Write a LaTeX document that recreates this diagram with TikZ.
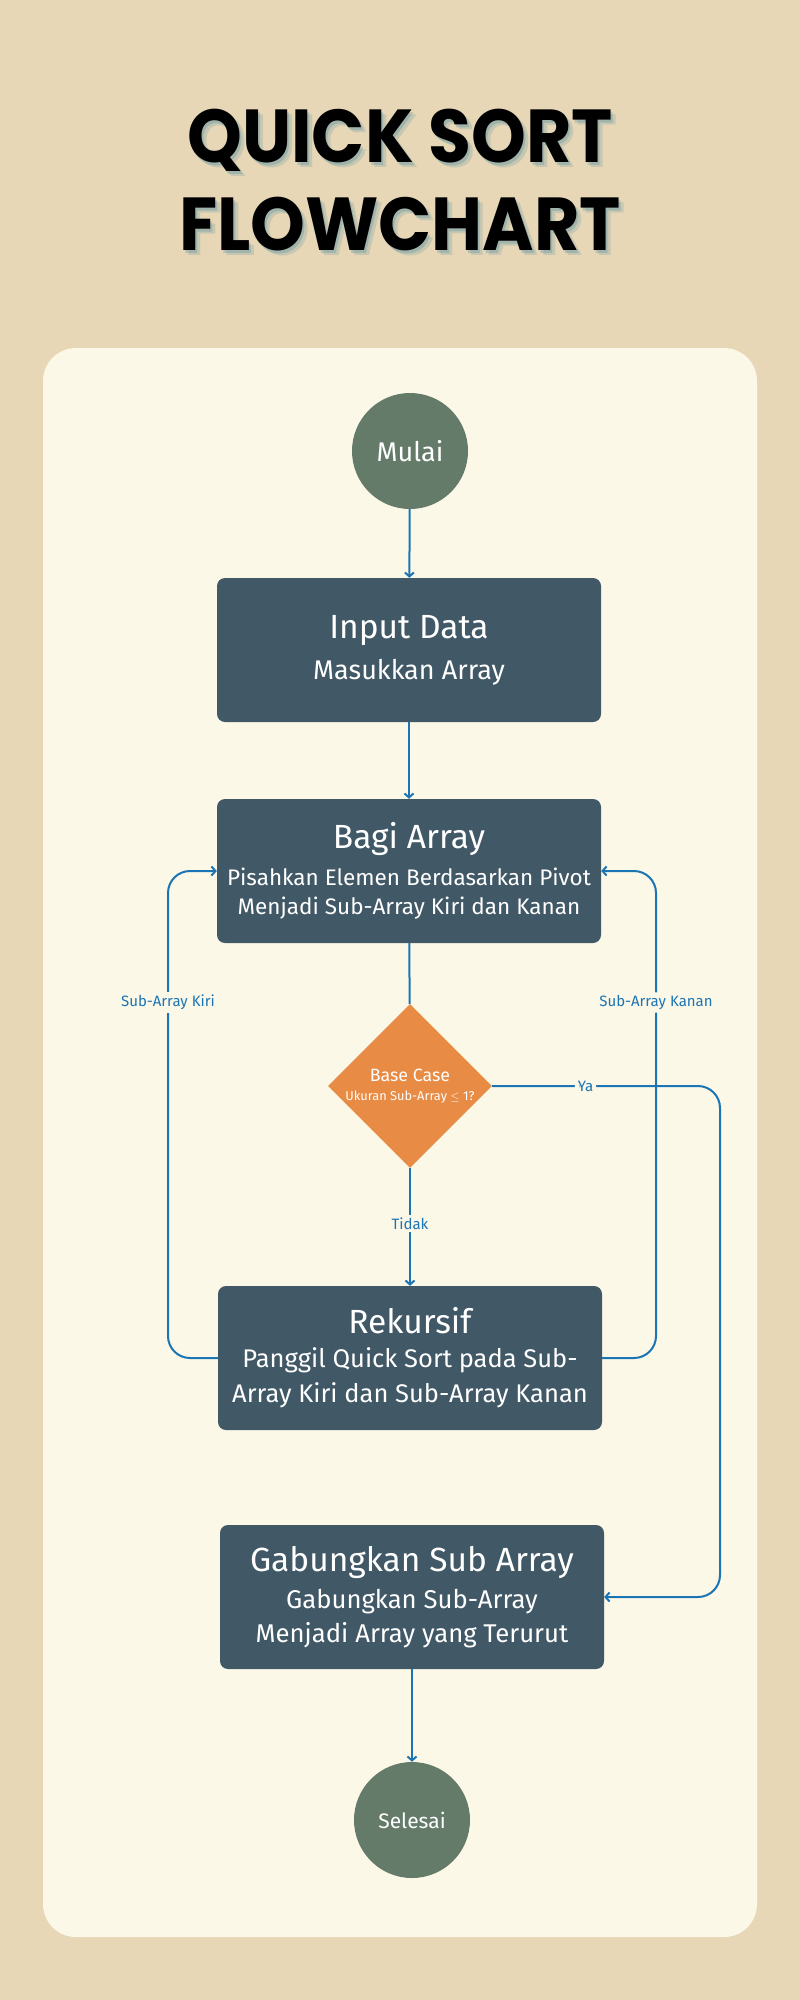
\documentclass[tikz,border=0pt]{standalone}
\usepackage{fontspec}
\setmainfont{Fira Sans}
\newfontfamily\titlefont{Poppins}[FakeStretch=0.93]
\usepackage{xcolor}
\usepackage{tikz}
\usetikzlibrary{calc,positioning,shapes.geometric,arrows.meta}
\definecolor{bgBeige}{HTML}{E7D7B6}
\definecolor{panelCream}{HTML}{FCF8E8}
\definecolor{boxSlate}{HTML}{415866}
\definecolor{termGreen}{HTML}{647B69}
\definecolor{decOrange}{HTML}{E88B45}
\definecolor{flowBlue}{HTML}{1B74B4}
\definecolor{shadowTeal}{HTML}{4A8AA0}
\tikzset{
    procBox/.style={draw=none, fill=boxSlate, rounded corners=8pt,
                    minimum width=384pt, minimum height=144pt, inner sep=4pt,
                    text=white, align=center, font=\fontsize{22.5}{29}\selectfont},
    termNode/.style={circle, fill=termGreen, minimum size=116pt, inner sep=0pt,
                     text=white, align=center},
    decNode/.style={diamond, fill=decOrange, minimum width=164pt, minimum height=164pt,
                    inner sep=0pt, text=white, align=center,
                    font=\fontsize{12.8}{18.5}\selectfont},
    flow/.style={draw=flowBlue, line width=2pt, -{Straight Barb[length=4pt, width=9pt]}},
    flowline/.style={draw=flowBlue, line width=2pt},
    lbl/.style={fill=panelCream, text=flowBlue, inner sep=3pt,
                font=\fontsize{15}{17}\selectfont},
    bigTitle/.style={font=\titlefont\bfseries\fontsize{75}{80}\selectfont, anchor=base},
}
\newcommand{\hd}[2][8pt]{{\fontsize{33.5}{40}\selectfont #2}\\[#1]}

\begin{document}
\begin{tikzpicture}[x=1pt, y=-1pt]

% background and panel
\fill[bgBeige] (0,0) rectangle (800,2000);
\fill[panelCream, rounded corners=33pt] (43,348) rectangle (757,1937);

% title with soft shadow
\node[bigTitle, text=shadowTeal, opacity=0.2] at (405,167) {QUICK SORT};
\node[bigTitle, text=shadowTeal, opacity=0.2] at (405,255) {FLOWCHART};
\node[bigTitle, text=shadowTeal, opacity=0.3] at (402,165) {QUICK SORT};
\node[bigTitle, text=shadowTeal, opacity=0.3] at (402,253) {FLOWCHART};
\node[bigTitle] (titleA) at (400,162) {QUICK SORT};
\node[bigTitle] (titleB) at (400,250) {FLOWCHART};

% flow nodes
\node[termNode, font=\fontsize{27}{30}\selectfont] (mulai) at (410,451) {Mulai};

\node[procBox, font=\fontsize{27}{34}\selectfont] (input) at (409,650)
     {\hd[7pt]{Input Data}Masukkan Array};

\node[procBox] (bagi) at (409,871)
     {\hd{Bagi Array}Pisahkan Elemen Berdasarkan Pivot\\
      Menjadi Sub-Array Kiri dan Kanan};

\node[decNode] (base) at (410,1086)
     {{\fontsize{17.8}{19}\selectfont Base Case}\\
      Ukuran Sub-Array $\leq$ 1?};

\node[procBox, font=\fontsize{25.5}{35}\selectfont] (rekursif) at (410,1358)
     {\hd[-1pt]{Rekursif}Panggil Quick Sort pada Sub-\\
      Array Kiri dan Sub-Array Kanan};

\node[procBox, font=\fontsize{25.7}{34}\selectfont] (gabung) at (412,1597)
     {\hd[3pt]{Gabungkan Sub Array}Gabungkan Sub-Array\\
      Menjadi Array yang Terurut};

\node[termNode, font=\fontsize{21}{24}\selectfont] (selesai) at (412,1820) {Selesai};

% turning points of the loops
\coordinate (kiriLo) at (168,1358);
\coordinate (kiriHi) at (168,871);
\coordinate (kananLo) at (656,1358);
\coordinate (kananHi) at (656,871);
\coordinate (yaTop) at (720,1086);
\coordinate (yaLo) at (720,1597);

% connectors
\draw[flow] (mulai) -- (input);
\draw[flow] (input) -- (bagi);
\draw[flowline] (bagi) -- (base);
\draw[flow] (base) -- node[lbl, pos=0.47] {Tidak} (rekursif);

\draw[flow, rounded corners=22pt] (base.east)
     -- node[lbl, pos=0.41] {Ya} (yaTop) -- (yaLo) -- (gabung.east);

\draw[flow, rounded corners=22pt] (rekursif.west) -- (kiriLo)
     -- node[lbl, pos=0.73] {Sub-Array Kiri} (kiriHi) -- (bagi.west);

\draw[flow, rounded corners=22pt] (rekursif.east) -- (kananLo)
     -- node[lbl, pos=0.73] {Sub-Array Kanan} (kananHi) -- (bagi.east);

\draw[flow] (gabung) -- (selesai);

\end{tikzpicture}
\end{document}
